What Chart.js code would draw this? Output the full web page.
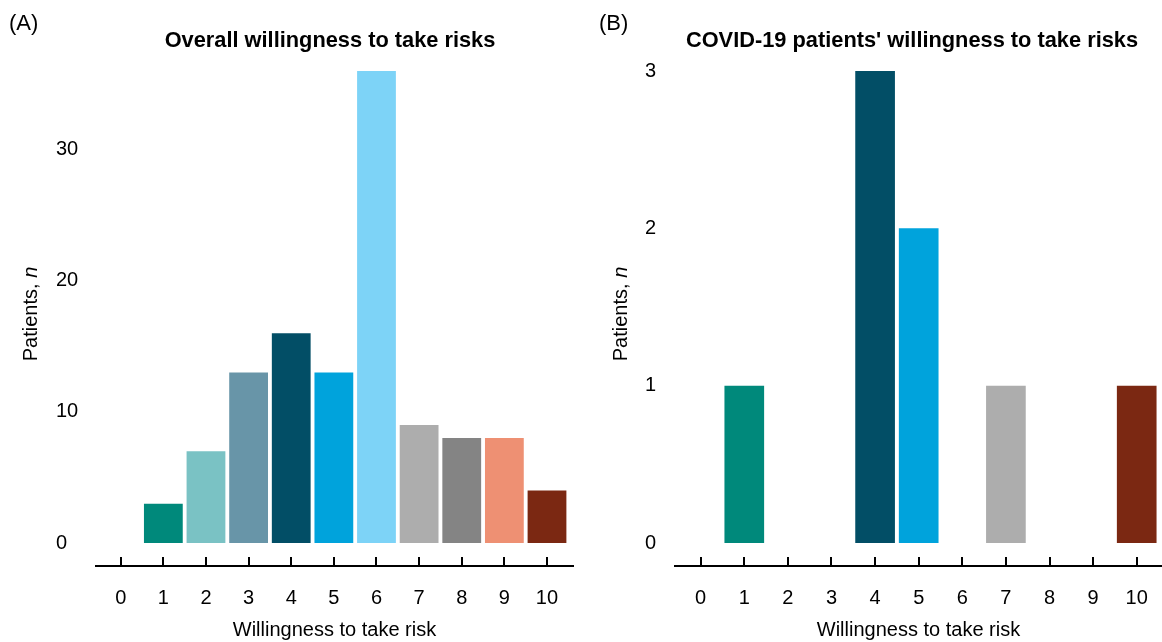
<!DOCTYPE html>
<html>
<head>
<meta charset="utf-8">
<script src="https://cdn.jsdelivr.net/npm/chart.js@4/dist/chart.umd.min.js"></script>
<style>
  html, body { margin: 0; padding: 0; background: #fff; }
  body { width: 1162px; height: 642px; position: relative; overflow: hidden;
         font-family: "Liberation Sans", Arial, sans-serif; color: #000; }
  canvas { position: absolute; top: 0; }
  .lbl { position: absolute; white-space: nowrap; }
  .panel { font-size: 22px; }
  .title { font-size: 21.8px; font-weight: bold; transform: translate(-50%, -50%); }
  .ytitle { font-size: 20px; transform: translate(-50%, -50%) rotate(-90deg); }
</style>
</head>
<body>
<canvas id="chartA" width="581" height="642" style="left:0px"></canvas>
<canvas id="chartB" width="581" height="642" style="left:581px"></canvas>

<div class="lbl panel" style="left:9px; top:10px;">(A)</div>
<div class="lbl panel" style="left:599px; top:10px;">(B)</div>
<div class="lbl title" style="left:330px; top:40px;">Overall willingness to take risks</div>
<div class="lbl title" style="left:912px; top:40px;">COVID-19 patients' willingness to take risks</div>
<div class="lbl ytitle" style="left:30px; top:314px;">Patients, <i>n</i></div>
<div class="lbl ytitle" style="left:620px; top:314px;">Patients, <i>n</i></div>

<script>
// ---- data ----
const categories = [0, 1, 2, 3, 4, 5, 6, 7, 8, 9, 10];
const overallCounts = [0, 3, 7, 13, 16, 13, 36, 9, 8, 8, 4];
const covidCounts = [0, 1, 0, 0, 3, 2, 0, 1, 0, 0, 1];
const yTicksA = [0, 10, 20, 30];
const yTicksB = [0, 1, 2, 3];
const barColors = ['#ffffff', '#00897B', '#7AC2C4', '#6895A8', '#024E66', '#00A3DC',
                   '#7DD3F7', '#ADADAD', '#848484', '#EE9073', '#7B2812'];

const FONT = '"Liberation Sans", Arial, sans-serif';

const tickMarks = {
  id: 'tickMarks',
  afterDatasetsDraw(chart) {
    const s = chart.scales.x;
    const ctx = chart.ctx;
    ctx.save();
    ctx.strokeStyle = '#000';
    ctx.lineWidth = 2;
    s.ticks.forEach(t => {
      const px = Math.round(s.getPixelForValue(t.value));
      ctx.beginPath();
      ctx.moveTo(px, s.top);
      ctx.lineTo(px, s.top - 9);
      ctx.stroke();
    });
    ctx.restore();
  }
};

function makeChart(id, values, yTicks, yMin, yMax, xMin, xMax, padL, padR, yWidth) {
  return new Chart(document.getElementById(id), {
    type: 'bar',
    data: {
      datasets: [{
        data: categories.map((c, i) => ({ x: c, y: values[i] })),
        backgroundColor: barColors,
        borderWidth: 0,
        barPercentage: 0.91,
        categoryPercentage: 1.0
      }]
    },
    options: {
      responsive: false,
      animation: false,
      layout: { padding: { left: padL, right: padR, top: 71, bottom: 0 } },
      plugins: { legend: { display: false }, tooltip: { enabled: false }, title: { display: false } },
      scales: {
        x: {
          type: 'linear',
          offset: false,
          min: xMin,
          max: xMax,
          afterBuildTicks: s => { s.ticks = categories.map(v => ({ value: v })); },
          afterFit: s => { s.height = 76; s.paddingLeft = 0; s.paddingRight = 0; },
          grid: { display: true, offset: false, drawOnChartArea: false, drawTicks: false, color: 'rgba(0,0,0,0)' },
          border: { display: true, color: '#000', width: 2 },
          ticks: { color: '#000', padding: 20, font: { family: FONT, size: 20 }, maxRotation: 0, autoSkip: false },
          title: { display: true, text: 'Willingness to take risk', color: '#000',
                   padding: { top: 0, bottom: 0 }, font: { family: FONT, size: 20 } }
        },
        y: {
          min: yMin,
          max: yMax,
          afterBuildTicks: s => { s.ticks = yTicks.map(v => ({ value: v })); },
          afterFit: s => { s.width = yWidth; },
          grid: { display: false },
          border: { display: false },
          ticks: { color: '#000', crossAlign: 'far', padding: 0, font: { family: FONT, size: 20 } }
        }
      }
    },
    plugins: [tickMarks]
  });
}

makeChart('chartA', overallCounts, yTicksA, -1.754, 36, -0.58, 10.61, 56, 8, 40);
makeChart('chartB', covidCounts, yTicksB, -0.1462, 3, -0.589, 10.58, 64, 0, 30);
</script>
</body>
</html>
